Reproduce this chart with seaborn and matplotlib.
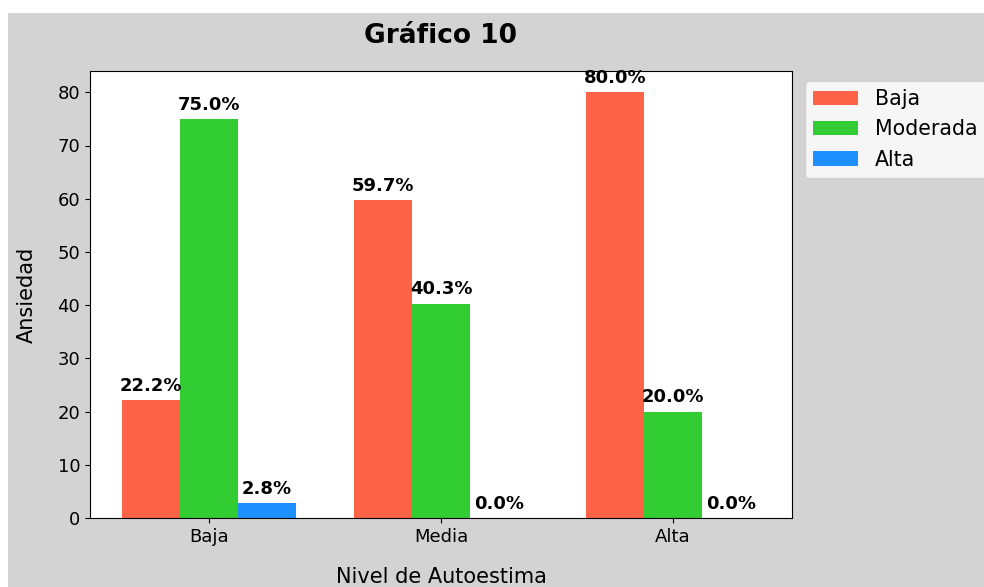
import pandas as pd
import seaborn as sns
import matplotlib.pyplot as plt
from matplotlib.patches import Rectangle

# datos del gráfico
autoestima = ['Baja', 'Media', 'Alta']
ansiedad = ['Baja', 'Moderada', 'Alta']
pct_baja = [22.2, 59.7, 80.0]
pct_moderada = [75.0, 40.3, 20.0]
pct_alta = [2.8, 0.0, 0.0]
colores = ['tomato', 'limegreen', 'dodgerblue']

df = pd.DataFrame({
    'Autoestima': autoestima * 3,
    'Ansiedad': ['Baja'] * 3 + ['Moderada'] * 3 + ['Alta'] * 3,
    'valor': pct_baja + pct_moderada + pct_alta,
})

fig = plt.figure(figsize=(9.84, 5.87), dpi=100, facecolor='white')
fig.patches.append(Rectangle((8 / 984, 0), 1, 1 - 13 / 587, transform=fig.transFigure,
                             facecolor='lightgray', edgecolor='none', zorder=-1))
ax = fig.add_axes([90 / 984, 1 - 518 / 587, (792 - 90) / 984, (518 - 71) / 587])

sns.barplot(data=df, x='Autoestima', y='valor', hue='Ansiedad', hue_order=ansiedad,
            order=autoestima, palette=colores, saturation=1, width=0.75, ax=ax)

for cont in ax.containers:
    for bar in cont:
        h = bar.get_height()
        ax.text(bar.get_x() + bar.get_width() / 2, h + 1, f'{h:.1f}%',
                ha='center', va='bottom', fontsize=13, fontweight='bold')

ax.set_xlim(-0.513, 2.513)
ax.set_title('Gráfico 10', fontsize=19, fontweight='bold', pad=20.5)
ax.set_xlabel('Nivel de Autoestima', fontsize=15, labelpad=15)
ax.set_ylabel('Ansiedad', fontsize=15, labelpad=15)
ax.tick_params(labelsize=13)
ax.legend(loc='upper left', bbox_to_anchor=(1.0185, 0.978), borderaxespad=0,
          fontsize=14.8, handlelength=2.2)

plt.savefig('out.png', dpi=100, facecolor=fig.get_facecolor())
